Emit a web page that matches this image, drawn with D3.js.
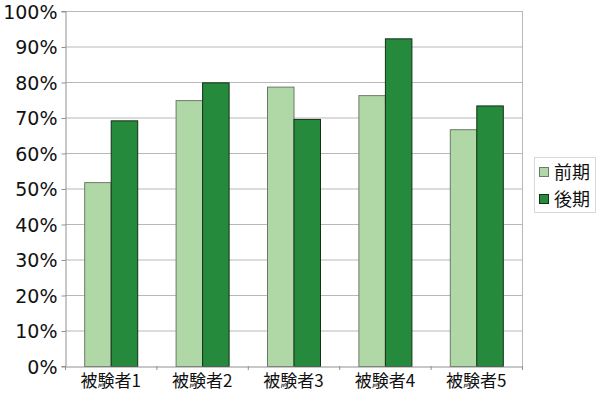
<!DOCTYPE html>
<html>
<head>
<meta charset="utf-8">
<script src="https://cdn.jsdelivr.net/npm/d3@7"></script>
<style>
  html, body { margin: 0; padding: 0; background: #fff; }
  svg { display: block; }
</style>
</head>
<body>
<div id="vis"></div>
<script>
// data
const subjects = ["被験者1", "被験者2", "被験者3", "被験者4", "被験者5"];
const seriesNames = ["前期", "後期"];
const early = [0.518, 0.749, 0.787, 0.763, 0.667];
const late = [0.692, 0.799, 0.696, 0.923, 0.734];
const yTicks = [0, 0.1, 0.2, 0.3, 0.4, 0.5, 0.6, 0.7, 0.8, 0.9, 1.0];
const colors = ["#b0d8a6", "#258a3b"];
const strokes = ["#6b7a66", "#143018"];

const margin = { top: 11, right: 78, bottom: 28, left: 65 };
const W = 600, H = 394;
const width = W - margin.left - margin.right;
const height = H - margin.top - margin.bottom;

const svg = d3.select("#vis").append("svg")
  .attr("width", W)
  .attr("height", H);

const g = svg.append("g")
  .attr("transform", `translate(${margin.left},${margin.top})`);

const x = d3.scaleBand()
  .domain(subjects)
  .range([0, width])
  .paddingInner(0.42)
  .paddingOuter(0.21);

const xInner = d3.scaleBand()
  .domain(seriesNames)
  .range([0, x.bandwidth()]);

const y = d3.scaleLinear()
  .domain([0, 1])
  .range([height, 0]);

// gridlines
g.selectAll(".grid")
  .data(yTicks.filter(d => d > 0))
  .join("line")
  .attr("class", "grid")
  .attr("x1", 0)
  .attr("x2", width)
  .attr("y1", d => y(d) + 0.5)
  .attr("y2", d => y(d) + 0.5)
  .attr("stroke", "#b8b8b8");

// right border
g.append("line")
  .attr("x1", width + 0.5).attr("x2", width + 0.5)
  .attr("y1", 0).attr("y2", height)
  .attr("stroke", "#b8b8b8");

// bars
const rows = subjects.map((s, i) => ({ subject: s, values: [early[i], late[i]] }));

const groups = g.selectAll(".group")
  .data(rows)
  .join("g")
  .attr("class", "group")
  .attr("transform", d => `translate(${x(d.subject)},0)`);

groups.selectAll("rect")
  .data(d => d.values.map((v, j) => ({ key: seriesNames[j], value: v, j })))
  .join("rect")
  .attr("x", d => xInner(d.key) + 0.5)
  .attr("y", d => y(d.value) + 0.5)
  .attr("width", xInner.bandwidth())
  .attr("height", d => height - y(d.value))
  .attr("fill", d => colors[d.j])
  .attr("stroke", d => strokes[d.j])
  .attr("stroke-width", 1);

// y axis
const yAxis = g.append("g")
  .attr("transform", "translate(0.5,0)")
  .call(d3.axisLeft(y).tickValues(yTicks).tickFormat(d3.format(".0%")).tickSize(4).tickPadding(4));
yAxis.select(".domain").attr("stroke", "#909090");
yAxis.selectAll(".tick line").attr("stroke", "#909090").attr("transform", "translate(0,0.5)");
yAxis.selectAll("text")
  .attr("font-family", "DejaVu Sans, Verdana, sans-serif")
  .attr("font-size", 19)
  .attr("dy", "0.38em")
  .attr("fill", "#111");

// x axis
const xAxis = g.append("g")
  .attr("transform", `translate(0,${height + 0.5})`)
  .call(d3.axisBottom(x).tickSize(0).tickPadding(8));
xAxis.select(".domain").attr("stroke", "#909090");
xAxis.selectAll("text")
  .attr("font-family", "Noto Sans CJK JP, sans-serif")
  .attr("font-size", 17)
  .attr("fill", "#111");

// small tick marks between categories
const step = width / subjects.length;
g.selectAll(".xtick")
  .data(d3.range(subjects.length + 1))
  .join("line")
  .attr("class", "xtick")
  .attr("x1", d => d * step + 0.5)
  .attr("x2", d => d * step + 0.5)
  .attr("y1", height)
  .attr("y2", height + 4)
  .attr("stroke", "#909090");

// legend
const legend = svg.append("g")
  .attr("transform", "translate(534,157)");

legend.append("rect")
  .attr("x", 0.5).attr("y", 0.5)
  .attr("width", 61).attr("height", 55)
  .attr("fill", "#fff")
  .attr("stroke", "#d8d8d8");

const items = legend.selectAll(".item")
  .data(seriesNames)
  .join("g")
  .attr("class", "item")
  .attr("transform", (d, i) => `translate(5,${15 + i * 27})`);

items.append("rect")
  .attr("x", 0.5).attr("y", -4.5)
  .attr("width", 9).attr("height", 9)
  .attr("fill", (d, i) => colors[i])
  .attr("stroke", (d, i) => strokes[i]);

items.append("text")
  .attr("x", 15)
  .attr("y", 7)
  .attr("font-family", "Noto Sans CJK JP, sans-serif")
  .attr("font-size", 18)
  .attr("fill", "#111")
  .text(d => d);
</script>
</body>
</html>
